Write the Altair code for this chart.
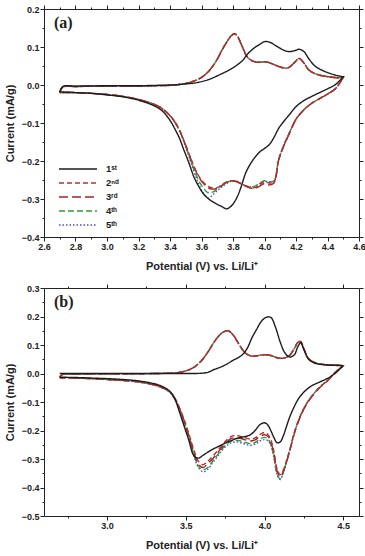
import altair as alt
import pandas as pd

# ---------------------------------------------------------------------------
# Cyclic voltammetry data, five cycles per electrode.
# Each cycle = anodic sweep (2.7 -> 4.5 V) followed by cathodic sweep (4.5 -> 2.7 V).
# Potentials in V vs. Li/Li+, currents in mA/g.
# ---------------------------------------------------------------------------

CYCLES = ["1ˢᵗ", "2ⁿᵈ", "3ʳᵈ", "4ᵗʰ", "5ᵗʰ"]
COLORS = ["#1c1c1c", "#b8302e", "#9e2528", "#2f9c3a", "#4b4bc6"]
DASHES = [[1, 0], [5, 3], [9, 4], [6, 3], [1.5, 2]]
TAGS = ["(a)", "(b)"]

# ----- electrode (a) -----
A_ANODIC_V = [2.70, 2.72, 2.80, 3.00, 3.20, 3.30, 3.40, 3.45, 3.50, 3.55, 3.60, 3.65,
              3.70, 3.73, 3.76, 3.79, 3.81, 3.83, 3.86, 3.89, 3.93, 3.97, 4.00, 4.03,
              4.07, 4.11, 4.15, 4.19, 4.22, 4.25, 4.28, 4.32, 4.37, 4.42, 4.47, 4.50]
A_ANODIC_1 = [-0.018, -0.004, -0.003, -0.002, -0.002, -0.001, 0.000, 0.001, 0.003, 0.005,
              0.009, 0.015, 0.024, 0.030, 0.036, 0.043, 0.048, 0.054, 0.064, 0.080,
              0.096, 0.107, 0.114, 0.113, 0.104, 0.094, 0.088, 0.090, 0.094, 0.088,
              0.070, 0.050, 0.038, 0.030, 0.024, 0.022]
A_ANODIC_N = [-0.020, -0.005, -0.004, -0.003, -0.003, -0.002, -0.001, 0.001, 0.004, 0.010,
              0.020, 0.038, 0.068, 0.092, 0.113, 0.130, 0.135, 0.127, 0.100, 0.074,
              0.062, 0.060, 0.061, 0.059, 0.052, 0.046, 0.045, 0.059, 0.070, 0.058,
              0.040, 0.030, 0.024, 0.021, 0.019, 0.020]

A_CATH_V = [4.50, 4.45, 4.40, 4.35, 4.30, 4.25, 4.20, 4.16, 4.12, 4.09, 4.06, 4.03, 4.00,
            3.97, 3.94, 3.91, 3.88, 3.85, 3.82, 3.79, 3.76, 3.73, 3.70, 3.67, 3.64, 3.61,
            3.58, 3.55, 3.52, 3.49, 3.46, 3.43, 3.40, 3.35, 3.30, 3.20, 3.10, 3.00, 2.90,
            2.80, 2.70]
A_CATH_1 = [0.022, 0.001, -0.010, -0.020, -0.030, -0.041, -0.057, -0.077, -0.097, -0.114,
            -0.138, -0.157, -0.167, -0.176, -0.190, -0.208, -0.232, -0.270, -0.300, -0.318,
            -0.326, -0.320, -0.314, -0.307, -0.298, -0.285, -0.265, -0.240, -0.205, -0.173,
            -0.140, -0.115, -0.093, -0.068, -0.055, -0.040, -0.031, -0.026, -0.022, -0.020,
            -0.018]
A_CATH_2 = [0.020, -0.010, -0.024, -0.036, -0.048, -0.065, -0.090, -0.125, -0.162, -0.197,
            -0.255, -0.258, -0.254, -0.262, -0.270, -0.270, -0.266, -0.260, -0.254, -0.252,
            -0.255, -0.262, -0.270, -0.271, -0.266, -0.255, -0.238, -0.212, -0.180, -0.148,
            -0.118, -0.096, -0.080, -0.062, -0.051, -0.038, -0.030, -0.025, -0.022, -0.020,
            -0.020]
A_CATH_3 = [0.020, -0.010, -0.024, -0.036, -0.048, -0.066, -0.091, -0.126, -0.163, -0.198,
            -0.258, -0.263, -0.259, -0.266, -0.272, -0.271, -0.266, -0.260, -0.254, -0.252,
            -0.256, -0.264, -0.272, -0.274, -0.270, -0.258, -0.240, -0.213, -0.181, -0.149,
            -0.119, -0.097, -0.081, -0.062, -0.051, -0.038, -0.030, -0.025, -0.022, -0.020,
            -0.020]
A_CATH_4 = [0.020, -0.010, -0.024, -0.036, -0.048, -0.065, -0.090, -0.124, -0.161, -0.196,
            -0.252, -0.255, -0.252, -0.258, -0.266, -0.268, -0.265, -0.259, -0.253, -0.252,
            -0.257, -0.265, -0.274, -0.282, -0.283, -0.270, -0.250, -0.220, -0.185, -0.150,
            -0.119, -0.097, -0.081, -0.062, -0.051, -0.038, -0.030, -0.025, -0.022, -0.020,
            -0.020]
A_CATH_5 = [0.020, -0.010, -0.024, -0.036, -0.048, -0.065, -0.090, -0.124, -0.161, -0.196,
            -0.253, -0.256, -0.253, -0.259, -0.267, -0.268, -0.265, -0.259, -0.253, -0.253,
            -0.259, -0.268, -0.278, -0.290, -0.297, -0.284, -0.258, -0.225, -0.188, -0.152,
            -0.120, -0.098, -0.081, -0.062, -0.051, -0.038, -0.030, -0.025, -0.022, -0.020,
            -0.020]

# ----- electrode (b) -----
B_ANODIC_V = [2.70, 2.72, 2.80, 3.00, 3.20, 3.30, 3.40, 3.45, 3.50, 3.55, 3.60, 3.64,
              3.68, 3.71, 3.74, 3.77, 3.80, 3.83, 3.86, 3.89, 3.92, 3.95, 3.98, 4.01,
              4.04, 4.07, 4.10, 4.13, 4.16, 4.19, 4.21, 4.23, 4.25, 4.28, 4.32, 4.37,
              4.42, 4.47, 4.50]
B_ANODIC_1 = [0.000, 0.000, 0.000, 0.000, 0.000, 0.000, 0.000, 0.000, 0.000, 0.000,
              0.001, 0.004, 0.014, 0.020, 0.027, 0.036, 0.046, 0.055, 0.066, 0.088,
              0.125, 0.155, 0.183, 0.197, 0.197, 0.162, 0.110, 0.072, 0.058, 0.066,
              0.092, 0.108, 0.084, 0.050, 0.036, 0.031, 0.029, 0.028, 0.027]
B_ANODIC_N = [-0.012, -0.003, -0.002, -0.001, -0.001, 0.000, 0.001, 0.003, 0.009, 0.021,
              0.045, 0.075, 0.110, 0.132, 0.146, 0.150, 0.136, 0.110, 0.084, 0.067,
              0.061, 0.062, 0.065, 0.066, 0.063, 0.057, 0.053, 0.055, 0.064, 0.088,
              0.108, 0.112, 0.086, 0.052, 0.038, 0.032, 0.030, 0.029, 0.028]

B_CATH_V = [4.50, 4.45, 4.40, 4.35, 4.30, 4.26, 4.22, 4.19, 4.16, 4.14, 4.12, 4.10, 4.08,
            4.06, 4.04, 4.02, 4.00, 3.97, 3.94, 3.91, 3.88, 3.85, 3.82, 3.79, 3.76, 3.73,
            3.70, 3.67, 3.64, 3.61, 3.58, 3.55, 3.52, 3.49, 3.46, 3.43, 3.40, 3.35, 3.30,
            3.20, 3.10, 3.00, 2.90, 2.80, 2.70]
B_CATH_1 = [0.027, 0.001, -0.017, -0.030, -0.043, -0.060, -0.085, -0.115, -0.153, -0.185,
            -0.218, -0.240, -0.243, -0.225, -0.200, -0.180, -0.173, -0.180, -0.200, -0.215,
            -0.221, -0.224, -0.228, -0.235, -0.242, -0.250, -0.258, -0.266, -0.276, -0.287,
            -0.297, -0.287, -0.235, -0.185, -0.135, -0.088, -0.063, -0.045, -0.036, -0.026,
            -0.021, -0.018, -0.016, -0.014, -0.013]
B_CATH_2 = [0.028, 0.004, -0.025, -0.048, -0.080, -0.112, -0.158, -0.205, -0.268, -0.305,
            -0.338, -0.355, -0.335, -0.275, -0.232, -0.213, -0.207, -0.214, -0.226, -0.230,
            -0.226, -0.221, -0.217, -0.221, -0.233, -0.252, -0.272, -0.291, -0.308, -0.320,
            -0.308, -0.265, -0.212, -0.162, -0.120, -0.085, -0.064, -0.048, -0.040, -0.029,
            -0.024, -0.021, -0.018, -0.016, -0.015]
B_CATH_3 = [0.028, 0.004, -0.026, -0.050, -0.082, -0.115, -0.162, -0.210, -0.272, -0.310,
            -0.343, -0.362, -0.342, -0.282, -0.240, -0.220, -0.215, -0.221, -0.233, -0.237,
            -0.233, -0.228, -0.225, -0.228, -0.240, -0.259, -0.280, -0.300, -0.316, -0.330,
            -0.318, -0.274, -0.218, -0.166, -0.122, -0.087, -0.065, -0.049, -0.040, -0.029,
            -0.024, -0.021, -0.018, -0.016, -0.015]
B_CATH_4 = [0.028, 0.005, -0.024, -0.048, -0.080, -0.112, -0.160, -0.208, -0.270, -0.310,
            -0.345, -0.370, -0.352, -0.292, -0.248, -0.229, -0.224, -0.230, -0.242, -0.246,
            -0.242, -0.237, -0.234, -0.237, -0.248, -0.265, -0.287, -0.308, -0.330, -0.338,
            -0.325, -0.282, -0.225, -0.170, -0.124, -0.089, -0.066, -0.050, -0.041, -0.030,
            -0.025, -0.021, -0.018, -0.016, -0.015]
B_CATH_5 = [0.028, 0.005, -0.024, -0.048, -0.080, -0.112, -0.160, -0.209, -0.272, -0.312,
            -0.348, -0.372, -0.355, -0.296, -0.253, -0.235, -0.232, -0.237, -0.248, -0.252,
            -0.248, -0.243, -0.240, -0.243, -0.253, -0.270, -0.292, -0.314, -0.336, -0.345,
            -0.330, -0.286, -0.228, -0.172, -0.125, -0.090, -0.067, -0.051, -0.041, -0.030,
            -0.025, -0.021, -0.018, -0.016, -0.015]

FONT = "Liberation Sans"
INK = "#222222"
# Long horizontal legend stroke drawn on a small symbol footprint.
LEGEND_STROKE = "M-3.8,0H3.8"


def cv_frame(anodic_v, cathodic_v, sweeps):
    """Join each cycle's anodic and cathodic sweeps into one closed trace."""
    rows = []
    for name, anodic, cathodic in sweeps:
        assert len(anodic) == len(anodic_v) and len(cathodic) == len(cathodic_v), name
        trace = list(zip(anodic_v, anodic)) + list(zip(cathodic_v, cathodic))
        for step, (v, i) in enumerate(trace):
            rows.append({"cycle": name, "step": step, "V": v, "I": i})
    return pd.DataFrame(rows)


data_a = cv_frame(A_ANODIC_V, A_CATH_V, [
    (CYCLES[4], A_ANODIC_N, A_CATH_5),
    (CYCLES[3], A_ANODIC_N, A_CATH_4),
    (CYCLES[2], A_ANODIC_N, A_CATH_3),
    (CYCLES[1], A_ANODIC_N, A_CATH_2),
    (CYCLES[0], A_ANODIC_1, A_CATH_1),
])
data_b = cv_frame(B_ANODIC_V, B_CATH_V, [
    (CYCLES[4], B_ANODIC_N, B_CATH_5),
    (CYCLES[3], B_ANODIC_N, B_CATH_4),
    (CYCLES[2], B_ANODIC_N, B_CATH_3),
    (CYCLES[1], B_ANODIC_N, B_CATH_2),
    (CYCLES[0], B_ANODIC_1, B_CATH_1),
])


def make_axis(orient, values, major, labelled, title=None, title_pad=8):
    """Axis with long major ticks and short minor ticks; labels only on majors."""
    spec = dict(
        orient=orient, values=values, grid=False,
        domainColor=INK, domainWidth=1, tickColor=INK, tickWidth=1,
        tickSize={"condition": {"test": major, "value": 4}, "value": 2},
    )
    if labelled:
        spec.update(
            labelExpr=f"({major}) ? format(datum.value, '.1f') : ''",
            labelFont=FONT, labelFontSize=9, labelFontWeight="bold", labelColor=INK,
            labelPadding=1, labelOverlap=False, labelFlush=False,
        )
    else:
        spec.update(labels=False)
    if title:
        spec.update(title=title, titleFont=FONT, titleFontSize=11, titleFontWeight="bold",
                    titleColor=INK, titlePadding=title_pad)
    else:
        spec.update(title=None)
    return alt.Axis(**spec)


def panel(data, tag, xdom, xvals, xmajor, ydom, yvals, ymajor, legend_y):
    xs = alt.Scale(domain=xdom, nice=False, zero=False)
    ys = alt.Scale(domain=ydom, nice=False, zero=False)
    legend = alt.Legend(
        orient="none", legendX=28, legendY=legend_y, title=None, padding=0,
        symbolType=LEGEND_STROKE, symbolSize=100, symbolStrokeWidth=1.5,
        labelFont=FONT, labelFontSize=9.5, labelFontWeight="bold", labelColor=INK,
        labelOffset=22, rowPadding=3,
    )
    curves = alt.Chart(data).mark_line(strokeWidth=1.4, interpolate="catmull-rom").encode(
        x=alt.X("V:Q", scale=xs,
                axis=make_axis("bottom", xvals, xmajor, True, "Potential (V) vs. Li/Li⁺", 9)),
        y=alt.Y("I:Q", scale=ys,
                axis=make_axis("left", yvals, ymajor, True, "Current (mA/g)", 6)),
        color=alt.Color("cycle:N", scale=alt.Scale(domain=CYCLES, range=COLORS), legend=legend),
        strokeDash=alt.StrokeDash("cycle:N", scale=alt.Scale(domain=CYCLES, range=DASHES),
                                  legend=legend),
        order=alt.Order("step:Q"),
    )
    frame = alt.Chart(data).mark_line(opacity=0).encode(
        x=alt.X("V:Q", scale=xs, axis=make_axis("top", xvals, xmajor, False)),
        y=alt.Y("I:Q", scale=ys, axis=make_axis("right", yvals, ymajor, False)),
        detail="cycle:N",
    )
    label = alt.Chart(pd.DataFrame({"tag": [tag]})).mark_text(
        align="left", baseline="middle", font="Liberation Serif", fontSize=16,
        fontWeight="bold", color=INK,
    ).encode(x=alt.value(10), y=alt.value(14), text="tag:N")
    return alt.layer(curves, frame, label).resolve_axis(
        x="independent", y="independent"
    ).properties(width=315, height=228)


def ticks(lo, hi, step):
    n = int(round((hi - lo) / step))
    return [round(lo + k * step, 3) for k in range(n + 1)]


panel_a = panel(
    data_a, TAGS[0],
    [2.6, 4.6], ticks(2.6, 4.6, 0.1), "abs(round(datum.value * 10)) % 2 == 0",
    [-0.4, 0.2], ticks(-0.4, 0.2, 0.05), "abs(round(datum.value * 20)) % 2 == 0",
    legend_y=154,
)
panel_b = panel(
    data_b, TAGS[1],
    [2.6, 4.6], ticks(2.75, 4.5, 0.25), "abs(round(datum.value * 4)) % 2 == 0",
    [-0.5, 0.3], ticks(-0.5, 0.3, 0.05), "abs(round(datum.value * 20)) % 2 == 0",
    legend_y=154,
)

chart = alt.vconcat(panel_a, panel_b, spacing=12).properties(
    padding={"left": 4, "top": 4, "right": -1, "bottom": 3},
    background="white",
).configure_view(strokeWidth=0)

chart.save("out.html", embed_options={"renderer": "svg", "actions": False})
